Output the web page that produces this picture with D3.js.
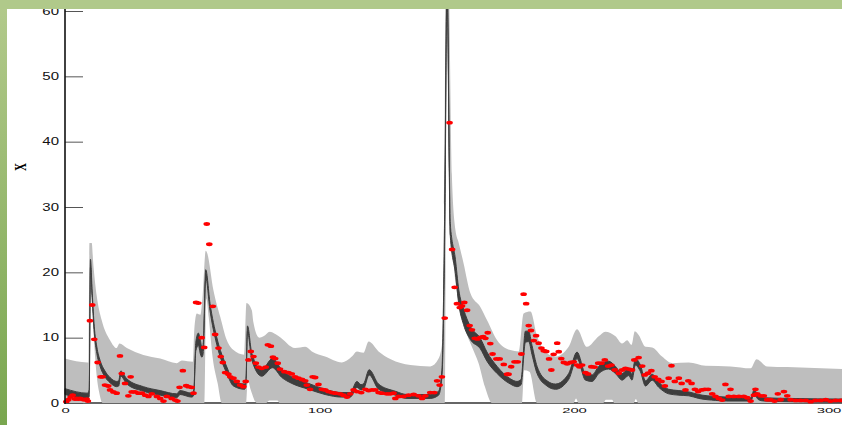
<!DOCTYPE html>
<html>
<head>
<meta charset="utf-8">
<script src="https://cdn.jsdelivr.net/npm/d3@7"></script>
<style>
	body { margin: 0; background: #fff; }
	svg { display: block; }
	.tick text { font-family: "Liberation Sans", Arial, sans-serif; fill: #111; }
</style>
</head>
<body>
<div id="chart"></div>
<script>
// prediction band (gray), upper and lower edges
var bandHiT = [0, 8.8, 9.3, 9.6, 10.5, 11.1, 12.5, 14.4, 17.7, 20.3, 21.4, 24.3, 30.8, 37.4, 43.9, 45.9, 50.3, 50.8, 51.8, 53.2, 54.0, 55.3, 55.8, 58.3, 61.0, 63.6, 66.2, 70.4, 71.3, 73.4, 74.0, 76.3, 78.0, 80.5, 84.0, 90.4, 94.4, 97.0, 102.2, 108.8, 112.7, 114.7, 117.3, 119.3, 123.2, 128.0, 135.7, 143.5, 146.8, 148.1, 149.0, 149.8, 150.6, 152.0, 153.4, 154.7, 156.6, 159.3, 163.2, 165.8, 169.8, 175.0, 178.3, 180.2, 182.9, 185.5, 189.4, 192.7, 197.9, 201.2, 205.1, 209.7, 212.3, 216.3, 218.9, 220.9, 222.6, 223.9, 225.4, 228.1, 230.7, 234.6, 238.6, 245.1, 251.7, 261.5, 269.4, 271.7, 275.9, 283.8, 306];
var bandHi = [6.8, 6.2, 6.2, 24.5, 24.5, 21.4, 16.3, 12.7, 9.6, 8.4, 9.1, 8.4, 7.35, 6.8, 6.1, 6.5, 6.3, 11.2, 13.7, 13.5, 16.0, 23.3, 23.0, 17.3, 13.2, 9.6, 8.1, 7.4, 15.3, 14.2, 12.4, 10.0, 10.2, 10.9, 10.2, 8.4, 8.6, 7.9, 7.1, 6.2, 7.1, 7.9, 7.7, 9.4, 7.9, 6.7, 5.8, 5.6, 6.8, 8.9, 30, 66, 66, 35, 26.5, 24.5, 21.4, 16.8, 14.7, 12.7, 9.6, 8.1, 7.9, 13.7, 14.0, 10.2, 7.6, 7.1, 8.6, 11.3, 8.6, 10.2, 10.9, 10.2, 9.1, 9.6, 8.9, 11.0, 10.4, 8.6, 8.5, 7.1, 6.1, 6.2, 5.7, 5.6, 5.3, 6.7, 5.6, 5.5, 5.2];
var bandLoT = [0, 9.7, 10.0, 10.6, 11.5, 12.5, 13.5, 14.8, 54.8, 55.5, 56.5, 58.0, 60.0, 61.6, 71.2, 71.8, 73.0, 75.4, 79.0, 80.2, 83.5, 84.3, 149.2, 150.1, 151.0, 152.7, 154.5, 157.3, 160.0, 162.5, 165.0, 167.8, 179.6, 180.4, 182.5, 185.5, 199.8, 200.8, 201.8, 211.5, 212.5, 215.0, 215.8, 223.5, 224.3, 225.2, 306];
var bandLo = [0, 0, 17.0, 16.0, 9.0, 4.0, 1.5, 0, 0, 16, 13, 7, 3, 0, 0, 3.5, 2, 0, 0, 0.4, 0.4, 0, 0, 58, 35, 21.4, 16, 11.2, 8.5, 6.1, 2.5, 0, 0, 5.0, 4.8, 0, 0, 0.7, 0, 0, 0.5, 0.5, 0, 0, 0.6, 0, 0];

// mean curve (dark band)
var meanT = [0, 8.8, 9.5, 10.0, 10.7, 11.5, 12.5, 13.8, 15.7, 17.7, 20.3, 21.1, 21.9, 24.3, 30.8, 37.4, 43.9, 45.2, 49.8, 50.6, 51.4, 52.4, 53.2, 53.8, 54.3, 55.3, 57.0, 59.6, 63.6, 66.2, 70.6, 71.1, 71.7, 73.4, 77.3, 81.5, 85.2, 89.1, 95.7, 102.2, 108.8, 112.1, 114.7, 116.3, 117.4, 119.5, 123.2, 129.8, 134.4, 143.5, 146.8, 148.1, 149.2, 150.1, 151.4, 153.4, 154.7, 156.6, 159.3, 163.2, 165.8, 169.8, 175.0, 177.6, 179.2, 180.9, 182.2, 183.5, 185.5, 189.4, 192.7, 197.9, 201.2, 204.5, 207.1, 209.7, 213.6, 216.3, 218.9, 221.5, 222.8, 224.1, 226.1, 228.1, 230.7, 233.3, 237.2, 241.2, 245.1, 249.0, 255.6, 260.0, 269.4, 270.8, 272.5, 274.6, 285.0, 306];
var meanLo = [1.3, 0.7, 1.0, 20.8, 15.8, 10.7, 7.6, 5.6, 4.0, 3.1, 2.5, 2.6, 4.1, 2.9, 1.8, 1.2, 0.8, 1.3, 0.9, 1.2, 8.0, 8.8, 7.5, 7.0, 7.6, 19.2, 14.1, 9.0, 4.5, 2.6, 2.1, 2.8, 10.9, 6.6, 4.1, 5.4, 3.9, 3.0, 2.1, 1.3, 0.9, 0.9, 2.4, 2.0, 2.2, 4.3, 2.1, 1.2, 0.7, 0.7, 1.2, 4.0, 25, 63, 25.5, 19.8, 15.2, 12.0, 9.7, 8.3, 6.4, 4.5, 2.9, 2.5, 2.8, 9.3, 9.4, 7.4, 4.5, 2.6, 2.1, 3.6, 6.8, 3.5, 3.3, 4.5, 5.2, 4.5, 3.5, 4.2, 3.5, 5.8, 4.8, 2.6, 3.5, 2.4, 1.4, 1.2, 1.1, 0.7, 0.4, 0.3, 0.3, 1.3, 0.5, 0.3, 0.2, 0.1];
var meanHi = [2.2, 1.5, 2.0, 22.0, 16.8, 11.7, 8.6, 6.5, 4.9, 3.9, 3.3, 3.4, 4.9, 3.7, 2.5, 1.9, 1.4, 1.9, 1.5, 2.0, 9.3, 10.7, 9.6, 8.5, 9.0, 20.4, 15.2, 10.1, 5.5, 3.4, 2.9, 3.6, 11.8, 7.6, 5.1, 6.8, 5.1, 4.0, 3.0, 2.1, 1.6, 1.6, 3.3, 2.8, 3.0, 5.1, 2.9, 1.8, 1.3, 1.3, 1.8, 5.0, 30, 66, 27.5, 22.0, 17.4, 14.4, 11.7, 9.9, 7.8, 5.6, 3.7, 3.3, 3.6, 11.0, 11.0, 8.8, 5.6, 3.4, 2.9, 4.5, 7.8, 4.5, 4.3, 5.6, 6.4, 5.6, 4.5, 5.3, 4.4, 6.8, 5.8, 3.4, 4.4, 3.2, 2.1, 1.9, 1.7, 1.3, 1.0, 0.9, 0.8, 2.0, 1.1, 0.8, 0.7, 0.6];

// observations (red)
var obsT = [0.5, 1.3, 2.2, 3.0, 3.9, 4.6, 5.2, 5.9, 6.6, 7.5, 8.5, 9.0, 9.8, 10.7, 11.5, 12.8, 14.0, 14.8, 15.7, 17.0, 17.7, 19.0, 20.3, 21.6, 22.3, 23.6, 24.9, 25.8, 26.2, 27.5, 28.8, 30.2, 31.5, 32.8, 34.1, 36.1, 37.4, 38.7, 40.0, 41.9, 43.3, 44.2, 45.0, 46.3, 47.6, 48.5, 49.8, 50.5, 51.5, 52.4, 53.7, 54.7, 55.7, 56.7, 58.1, 59.0, 60.3, 61.2, 62.0, 62.9, 64.2, 64.9, 66.2, 67.5, 68.8, 70.1, 71.0, 72.1, 73.0, 74.1, 75.0, 76.0, 77.3, 78.9, 79.7, 80.9, 81.7, 82.6, 83.6, 84.5, 86.2, 87.8, 89.1, 90.4, 91.7, 93.1, 94.4, 95.0, 96.3, 97.3, 98.3, 99.6, 100.9, 102.2, 103.5, 104.9, 106.2, 108.1, 109.4, 110.8, 112.1, 113.4, 114.7, 116.4, 118.0, 119.3, 120.6, 121.9, 123.2, 124.5, 126.5, 127.8, 129.1, 129.8, 131.1, 133.0, 135.0, 137.0, 138.9, 140.3, 141.6, 143.5, 145.1, 146.2, 147.2, 148.1, 149.2, 151.1, 152.1, 153.1, 154.0, 155.1, 156.0, 156.9, 158.0, 159.0, 159.9, 161.0, 162.1, 163.2, 164.3, 165.2, 166.1, 167.1, 168.0, 169.5, 170.8, 172.4, 173.7, 174.3, 175.3, 176.6, 177.9, 179.3, 180.2, 181.2, 182.2, 183.1, 184.2, 185.1, 186.1, 187.2, 188.1, 189.1, 190.2, 191.1, 192.0, 193.4, 194.0, 195.0, 196.0, 197.3, 198.6, 199.9, 201.2, 202.1, 203.2, 204.5, 205.5, 206.8, 208.1, 209.5, 210.8, 212.1, 213.4, 214.7, 216.0, 217.6, 218.9, 220.2, 221.5, 222.8, 223.7, 225.4, 226.8, 227.8, 229.1, 230.4, 231.7, 233.1, 234.4, 235.7, 237.2, 238.3, 239.6, 241.2, 242.3, 243.8, 244.9, 246.2, 247.5, 248.8, 250.1, 251.4, 252.7, 254.3, 255.6, 256.9, 258.2, 259.5, 260.8, 261.5, 262.8, 264.8, 266.7, 268.1, 269.4, 270.7, 271.3, 272.0, 273.3, 274.6, 275.9, 277.2, 278.8, 280.1, 281.2, 282.5, 283.8, 285.1, 287.1, 289.0, 291.0, 293.0, 294.9, 296.9, 298.9, 300.8, 302.8, 304.8];
var obsV = [0.2, 0.5, 0.9, 1.2, 0.6, 0.7, 0.6, 0.7, 0.6, 0.5, 0.6, 0.3, 12.6, 15.0, 9.75, 6.2, 4.0, 4.0, 2.75, 2.6, 2.0, 1.7, 1.5, 7.2, 4.5, 3.0, 1.1, 4.0, 1.7, 1.7, 1.5, 1.5, 1.2, 1.0, 1.4, 1.0, 0.7, 0.3, 1.0, 0.7, 0.45, 0.3, 2.4, 4.95, 2.65, 2.5, 2.4, 1.5, 15.4, 15.3, 10.0, 8.5, 27.4, 24.3, 14.8, 10.5, 8.4, 7.1, 6.2, 4.65, 4.4, 4.0, 3.8, 3.3, 2.75, 2.5, 3.3, 6.6, 7.9, 7.1, 6.1, 5.5, 5.3, 5.5, 8.9, 8.7, 7.0, 6.8, 6.1, 5.2, 4.8, 4.65, 4.45, 4.0, 3.8, 3.6, 3.4, 2.75, 2.1, 4.0, 3.9, 2.85, 2.1, 2.0, 1.75, 1.6, 1.5, 1.4, 1.2, 0.9, 1.4, 2.0, 1.75, 1.6, 2.1, 1.9, 2.0, 2.0, 1.6, 1.5, 1.4, 1.4, 1.5, 0.7, 1.0, 1.0, 1.2, 1.3, 1.1, 0.7, 1.1, 1.6, 1.6, 3.4, 2.75, 4.0, 13.0, 42.9, 23.5, 17.7, 15.2, 14.6, 14.85, 15.4, 14.2, 11.85, 11.2, 9.9, 9.8, 10.05, 10.15, 9.9, 10.75, 9.1, 7.5, 6.75, 6.75, 5.9, 4.4, 4.4, 5.55, 6.3, 6.3, 7.5, 16.65, 15.2, 11.85, 11.1, 9.55, 10.3, 9.15, 8.4, 8.0, 7.9, 6.75, 5.05, 7.45, 9.15, 7.85, 6.8, 6.2, 6.0, 6.2, 6.3, 5.8, 5.55, 5.8, 4.65, 4.45, 5.55, 5.5, 6.1, 6.1, 6.6, 5.65, 5.8, 5.05, 4.55, 5.05, 5.3, 5.2, 5.05, 6.6, 6.95, 5.65, 4.3, 4.55, 4.95, 4.0, 3.6, 3.3, 2.6, 3.8, 5.7, 3.3, 3.8, 3.0, 2.0, 3.4, 3.0, 2.1, 1.75, 2.0, 2.1, 2.1, 1.4, 1.0, 0.7, 0.45, 2.85, 1.0, 2.1, 1.0, 1.0, 1.0, 0.8, 0.3, 1.2, 2.1, 1.4, 1.1, 1.1, 0.5, 0.5, 0.3, 1.4, 0.5, 1.75, 1.1, 0.5, 0.4, 0.4, 0.4, 0.2, 0.4, 0.4, 0.5, 0.3, 0.4, 0.4];

var yTicks = [0, 10, 20, 30, 40, 50, 60];
var xTicks = [0, 100, 200, 300];
var yLabel = 'X';

var width = 842, height = 425;

var svg = d3.select('#chart').append('svg')
	.attr('width', width)
	.attr('height', height);

var x = d3.scaleLinear().domain([0, 300]).range([65, 828.5]);
var y = d3.scaleLinear().domain([0, 60]).range([403, 11]);

var defs = svg.append('defs');
var grad = defs.append('linearGradient')
	.attr('id', 'sidebar')
	.attr('x1', 0).attr('y1', 0).attr('x2', 0).attr('y2', 1);
grad.append('stop').attr('offset', '0%').attr('stop-color', '#b3ca8c');
grad.append('stop').attr('offset', '100%').attr('stop-color', '#79a64f');

function pts(ts, vs) {
	return ts.map(function(t, i) { return [t, vs[i]]; });
}

// the band is the area under the upper edge, clipped to what lies above the lower edge
defs.append('clipPath')
	.attr('id', 'abovelo')
	.append('path')
	.attr('d', d3.area()
		.curve(d3.curveMonotoneX)
		.x(function(d) { return x(d[0]); })
		.y0(function(d) { return y(d[1]); })
		.y1(-50)(pts(bandLoT, bandLo)));

// x axis line sits under the band
svg.append('line')
	.attr('x1', x(0)).attr('x2', width)
	.attr('y1', y(0)).attr('y2', y(0))
	.attr('stroke', '#333')
	.attr('stroke-width', 1.5);

svg.append('path')
	.attr('class', 'band')
	.attr('clip-path', 'url(#abovelo)')
	.attr('d', d3.area()
		.curve(d3.curveMonotoneX)
		.x(function(d) { return x(d[0]); })
		.y0(y(0))
		.y1(function(d) { return y(d[1]); })(pts(bandHiT, bandHi)))
	.attr('fill', '#bebebe');

var meanData = meanT.map(function(t, i) { return {t: t, lo: meanLo[i], hi: meanHi[i]}; });
var area = d3.area()
	.curve(d3.curveMonotoneX)
	.x(function(d) { return x(d.t); })
	.y0(function(d) { return y(d.lo); })
	.y1(function(d) { return y(d.hi); });

svg.append('path')
	.attr('class', 'mean')
	.attr('d', area(meanData))
	.attr('fill', '#3d3d3d')
	.attr('stroke', '#3d3d3d')
	.attr('stroke-width', 1);

svg.selectAll('.obs')
	.data(obsT.map(function(t, i) { return {t: t, v: obsV[i]}; }))
	.enter().append('ellipse')
	.attr('class', 'obs')
	.attr('cx', function(d) { return x(d.t); })
	.attr('cy', function(d) { return y(d.v); })
	.attr('rx', 3.3)
	.attr('ry', 1.9)
	.attr('fill', '#ff0000');

// y axis, ticks pointing inward
var yAxis = svg.append('g')
	.attr('transform', 'translate(' + x(0) + ',0)')
	.call(d3.axisLeft(y).tickValues(yTicks).tickSize(-18).tickPadding(6));
yAxis.select('.domain').remove();
yAxis.selectAll('.tick line').attr('stroke', '#555').attr('stroke-width', 1);
yAxis.selectAll('.tick text')
	.attr('font-size', 10)
	.attr('x', -6 / 1.5)
	.attr('transform', 'scale(1.5,1)');
svg.append('line')
	.attr('x1', x(0)).attr('x2', x(0))
	.attr('y1', 0).attr('y2', y(0) + 1)
	.attr('stroke', '#111')
	.attr('stroke-width', 1.6);

var xAxis = svg.append('g')
	.attr('transform', 'translate(0,' + y(0) + ')')
	.call(d3.axisBottom(x).tickValues(xTicks).tickSize(0).tickPadding(4));
xAxis.select('.domain').remove();
xAxis.selectAll('.tick text')
	.attr('font-size', 8)
	.attr('transform', 'scale(1.85,1)');

svg.append('text')
	.attr('transform', 'translate(26,167) scale(1.5,1) rotate(-90)')
	.attr('text-anchor', 'middle')
	.attr('font-family', '"Liberation Serif", serif')
	.attr('font-weight', 'bold')
	.attr('font-size', 11)
	.text(yLabel);

// frame
svg.append('rect').attr('x', 0).attr('y', 0).attr('width', 7).attr('height', height).attr('fill', 'url(#sidebar)');
svg.append('rect').attr('x', 0).attr('y', 0).attr('width', width).attr('height', 9).attr('fill', '#b0c98a');
</script>
</body>
</html>
